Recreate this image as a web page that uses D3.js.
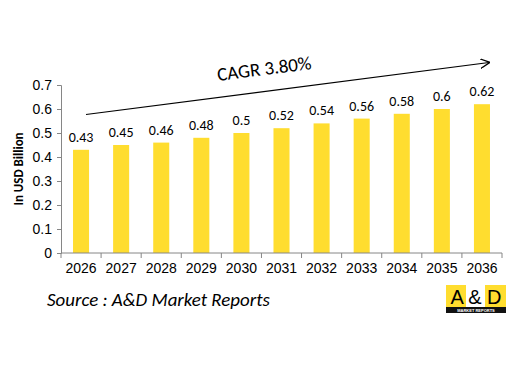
<!DOCTYPE html>
<html><head><meta charset="utf-8">
<script src="https://cdn.jsdelivr.net/npm/d3@7"></script>
<style>body{margin:0;background:#fff}svg{display:block;font-family:Calibri,Carlito,Lato,sans-serif}</style>
</head><body><svg id="c" width="530" height="368"></svg>
<script>
const years = ["2026","2027","2028","2029","2030","2031","2032","2033","2034","2035","2036"];
const values = [0.43,0.45,0.46,0.48,0.5,0.52,0.54,0.56,0.58,0.6,0.62];
const yTicks = [0,0.1,0.2,0.3,0.4,0.5,0.6,0.7];
const cagrLabel = "CAGR 3.80%";
const yTitle = "In USD Billion";
const sourceText = "Source : A&D Market Reports";

const svg = d3.select("#c");
const x = d3.scaleBand().domain(years).range([61,502]).paddingInner(0.6).paddingOuter(0.3);
const y = d3.scaleLinear().domain([0,0.7]).range([253,85]);
const axisColor = "#868686";

svg.append("g").selectAll("rect").data(values).join("rect")
  .attr("x",(d,i)=>x(years[i])).attr("width",x.bandwidth())
  .attr("y",d=>y(d)).attr("height",d=>y(0)-y(d)).attr("fill","#FFDD2F");

const ya = svg.append("g").attr("transform","translate(61,0)")
  .call(d3.axisLeft(y).tickValues(yTicks).tickSize(4).tickFormat(d=>d===0?"0":d3.format(".1f")(d)));
const xa = svg.append("g").attr("transform","translate(0,253)")
  .call(d3.axisBottom(x).tickSize(0).tickPadding(10));
const bounds = d3.range(years.length+1).map(i=>61 + i*(441/years.length));
svg.append("g").selectAll("line").data(bounds).join("line")
  .attr("x1",d=>d).attr("x2",d=>d).attr("y1",253).attr("y2",258).attr("stroke",axisColor);
[ya,xa].forEach(g=>{
  g.selectAll(".domain").attr("stroke",axisColor);
  g.selectAll(".tick line").attr("stroke",axisColor);
  g.selectAll("text").attr("fill","#000").attr("font-size","14px");
});
ya.selectAll("text").attr("dx","-2");
xa.select(".domain").attr("d","M61,0H502");

svg.append("g").selectAll("text").data(values).join("text")
  .attr("x",(d,i)=>x(years[i])+x.bandwidth()/2).attr("y",d=>y(d)-8)
  .attr("text-anchor","middle").attr("font-size","14px").attr("fill","#000")
  .text(d=>d);

svg.append("text").attr("transform","translate(23,169) rotate(-90)")
  .attr("text-anchor","middle").attr("font-size","13px").attr("font-weight","bold").text(yTitle);

svg.append("defs").append("marker").attr("id","ah").attr("viewBox","0 0 10 10")
  .attr("refX",9).attr("refY",5).attr("markerWidth",10).attr("markerHeight",10)
  .attr("markerUnits","userSpaceOnUse").attr("orient","auto")
  .append("path").attr("d","M0,0L10,5L0,10").attr("fill","none").attr("stroke","#000").attr("stroke-width",1.2);
svg.append("line").attr("x1",86).attr("y1",114.5).attr("x2",489).attr("y2",62.5)
  .attr("stroke","#000").attr("stroke-width",1.2).attr("marker-end","url(#ah)");
svg.append("text").attr("transform","translate(265,75) rotate(-7.3)")
  .attr("text-anchor","middle").attr("font-size","19px").text(cagrLabel);

svg.append("text").attr("x",47).attr("y",306).attr("font-size","18.9px").attr("font-style","italic").text(sourceText);

const lg = svg.append("g").attr("transform","translate(446,285)");
lg.append("rect").attr("width",60).attr("height",28).attr("fill","#fff");
lg.append("rect").attr("x",0).attr("y",0).attr("width",20).attr("height",22).attr("fill","#FFDD2F");
lg.append("rect").attr("x",39).attr("y",0).attr("width",21).attr("height",22).attr("fill","#FFDD2F");
lg.append("rect").attr("x",0).attr("y",22).attr("width",60).attr("height",6).attr("fill","#111");
lg.append("text").attr("x",30).attr("y",19).attr("text-anchor","middle").attr("font-size","20px")
  .attr("font-family","Arial,Liberation Sans,sans-serif").attr("fill","#000").text("A & D");
lg.append("text").attr("x",30).attr("y",27).attr("text-anchor","middle").attr("font-size","4px")
  .attr("font-family","Arial,Liberation Sans,sans-serif").attr("fill","#fff").attr("font-weight","bold").text("MARKET REPORTS");
</script></body></html>
